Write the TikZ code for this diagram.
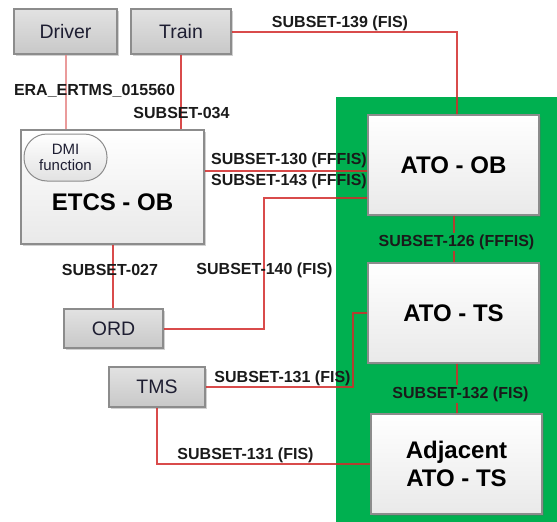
\documentclass[tikz,border=0pt]{standalone}
\usepackage{fontspec}
\setmainfont{Liberation Sans}
\usepackage{tikz}
\usetikzlibrary{positioning,shadows}
\definecolor{panelgreen}{HTML}{00B050}
\definecolor{boxline}{HTML}{8C8C8C}
\definecolor{actortop}{HTML}{E2E2E2}
\definecolor{actorbot}{HTML}{C8C8C8}
\definecolor{unittop}{HTML}{FFFFFF}
\definecolor{unitbot}{HTML}{E9E9E9}
\definecolor{boxtext}{HTML}{1E1E32}
\definecolor{lbltext}{HTML}{1A1A1A}
\definecolor{linkred}{HTML}{D22B2B}
\tikzset{
  boxshade/.style={drop shadow={shadow xshift=1.5pt, shadow yshift=-1.5pt, opacity=0.3, fill=black!60}},
  actor/.style={draw=boxline, line width=1.2pt, top color=actortop, bottom color=actorbot, text=boxtext,
                font=\fontsize{19.5}{22}\selectfont, minimum width=#1, minimum height=45pt, inner sep=0pt, boxshade},
  actor/.default=100pt,
  unit/.style={draw=boxline, line width=1.2pt, top color=unittop, bottom color=unitbot, text=black, align=center,
               font=\bfseries\fontsize{24}{28}\selectfont, minimum width=171pt, minimum height=100pt, inner sep=0pt, boxshade},
  unittext/.style={font=\bfseries\fontsize{24}{28}\selectfont, inner sep=0pt},
  dmibox/.style={draw=boxline, line width=1pt, rounded corners=23pt, top color=white, bottom color=actortop, text=boxtext,
                 font=\fontsize{15}{16}\selectfont, align=center, minimum width=83pt, minimum height=47pt, inner sep=0pt},
  iface/.style={font=\bfseries\fontsize{16}{18}\selectfont, text=lbltext, inner sep=1pt},
  onpanel/.style={fill=panelgreen, inner sep=2pt},
  link/.style={draw=linkred, line width=2pt, draw opacity=0.85},
  softlink/.style={link, draw=linkred!55},
}

\begin{document}
\begin{tikzpicture}[x=1pt, y=-1pt]
  \useasboundingbox (0,0) rectangle (557,522);
  \fill[panelgreen] (336,97) rectangle (557,522);

  \node[actor=103pt] (driver) at (65.5,31.5) {Driver};
  \node[actor=100pt] (train) at (181,31.5) {Train};
  \node[unit, minimum width=183pt, minimum height=114pt] (etcs) at (112.5,187) {};
  \node[unittext] (etcstext) at ([yshift=-15pt]etcs.center) {ETCS - OB};
  \node[dmibox] (dmi) at (65.5,157.5) {DMI\\function};
  \node[actor=99pt, minimum height=39pt] (ord) at (113.5,328.5) {ORD};
  \node[actor=96pt, minimum height=40pt] (tms) at (157,387) {TMS};
  \node[unit] (atoob) at (453.5,165) {ATO - OB};
  \node[unit] (atots) at (453.5,313) {ATO - TS};
  \node[unit] (adj) at (456.5,464) {Adjacent\\ATO - TS};

  % interfaces
  \draw[softlink] (driver.south) -- (driver.south |- etcs.north);
  \draw[link] (train.south) -- (train.south |- etcs.north);
  \draw[link] (train.east) -| ([xshift=3pt]atoob.north);
  \draw[link] ([yshift=-6pt]atoob.west) -- ([yshift=-6pt]atoob.west -| etcs.east);
  \draw[link] (ord.east) -| ([xshift=-103pt,yshift=-33pt]atoob.west) -- ([yshift=-33pt]atoob.west);
  \draw[link] (etcs.south) -- (etcs.south |- ord.north);
  \draw[link] (atoob.south) -- (atots.north);
  \draw[link] (atots.south -| adj.north) -- (adj.north);
  \draw[link] (tms.east) -| ([xshift=-14pt]atots.west) -- (atots.west);
  \draw[link] (tms.south) |- (adj.west);

  \node[iface] (s139) at (340,23) {SUBSET-139 (FIS)};
  \node[iface] (era) at (94.5,91) {ERA\_ERTMS\_015560};
  \node[iface] (s034) at (181.5,113) {SUBSET-034};
  \node[iface] (s130) at (289,160) {SUBSET-130 (FFFIS)};
  \node[iface] (s143) at (289,181) {SUBSET-143 (FFFIS)};
  \node[iface] (s027) at (110,270) {SUBSET-027};
  \node[iface] (s140) at (264.5,270) {SUBSET-140 (FIS)};
  \node[iface, onpanel] (s126) at (456.5,242) {SUBSET-126 (FFFIS)};
  \node[iface] (s131a) at (282.5,378) {SUBSET-131 (FIS)};
  \node[iface, onpanel] (s132) at (460.5,394) {SUBSET-132 (FIS)};
  \node[iface] (s131b) at (245.5,455.5) {SUBSET-131 (FIS)};
\end{tikzpicture}
\end{document}
